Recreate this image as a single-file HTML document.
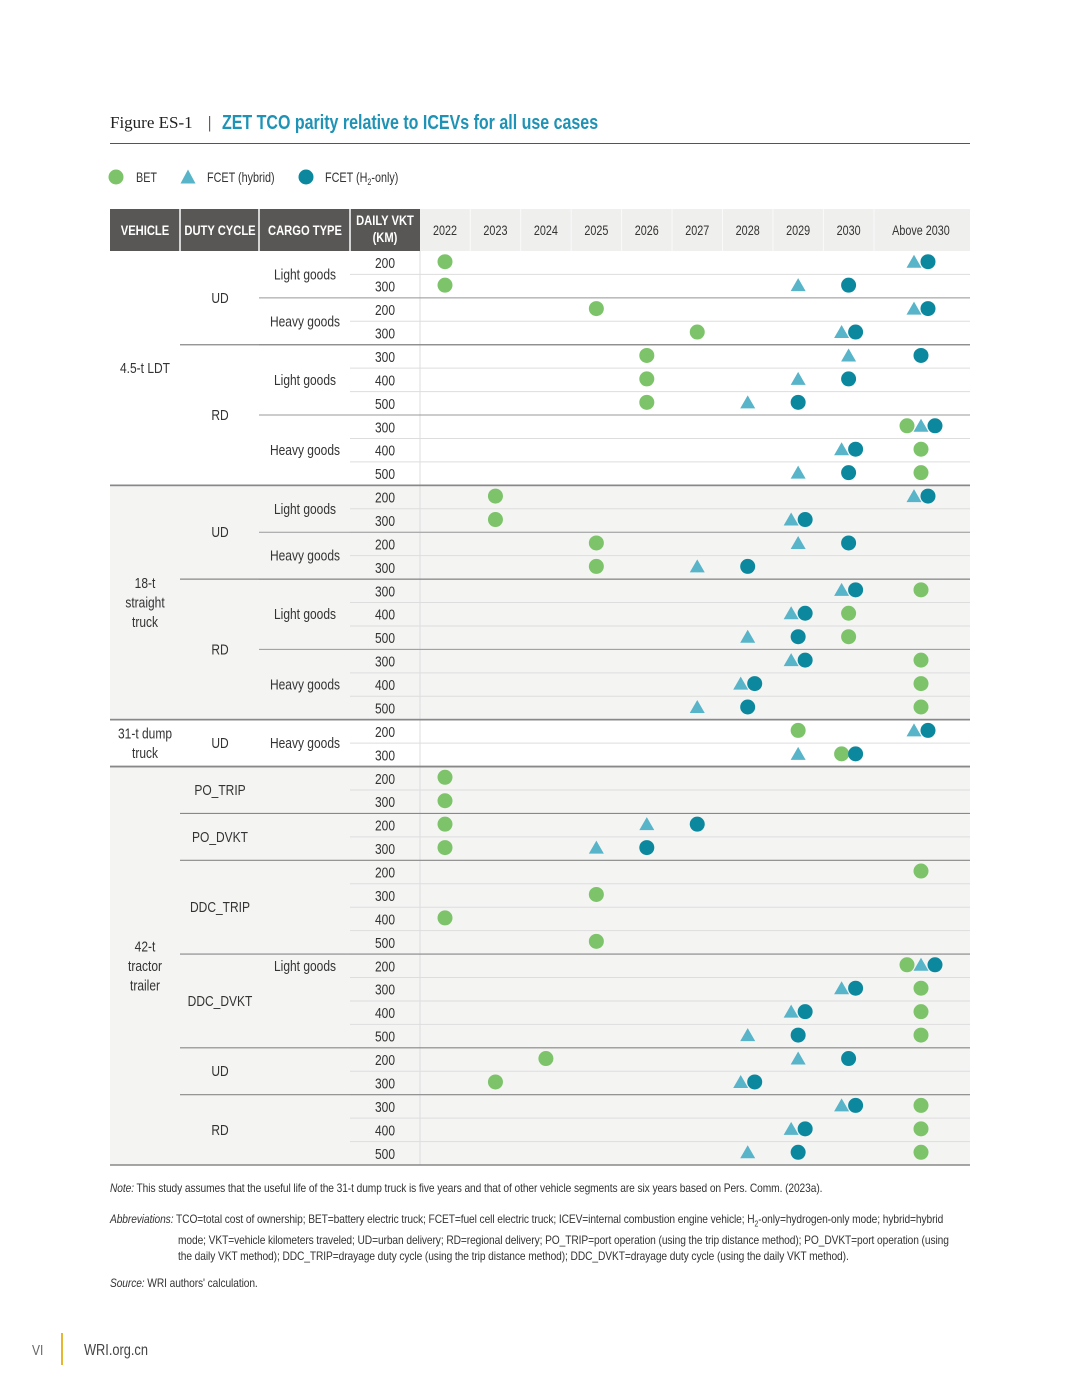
<!DOCTYPE html>
<html><head><meta charset="utf-8">
<style>
body{margin:0;background:#fff;}
#wrap{position:relative;width:1080px;height:1397px;overflow:hidden;font-family:"Liberation Sans Narrow","Liberation Sans",sans-serif;}
.note{position:absolute;left:110px;width:1012px;font-size:12px;color:#333;line-height:16px;letter-spacing:-0.1px;transform:scaleX(0.85);transform-origin:0 0;}
.note i{font-style:italic;}
</style></head>
<body>
<div id="wrap">
<svg id="chart" width="1080" height="1397" style="position:absolute;left:0;top:0"></svg>
<div class="note" style="top:1180px"><i>Note:</i> This study assumes that the useful life of the 31-t dump truck is five years and that of other vehicle segments are six years based on Pers. Comm. (2023a).</div>
<div class="note" style="top:1211px;padding-left:80px;text-indent:-80px;width:920px"><i>Abbreviations:</i> TCO=total cost of ownership; BET=battery electric truck; FCET=fuel cell electric truck; ICEV=internal combustion engine vehicle; H<sub style="font-size:8px">2</sub>-only=hydrogen-only mode; hybrid=hybrid mode; VKT=vehicle kilometers traveled; UD=urban delivery; RD=regional delivery; PO_TRIP=port operation (using the trip distance method); PO_DVKT=port operation (using the daily VKT method); DDC_TRIP=drayage duty cycle (using the trip distance method); DDC_DVKT=drayage duty cycle (using the daily VKT method).</div>
<div class="note" style="top:1275px"><i>Source:</i> WRI authors' calculation.</div>
</div>
<script>
// data: year index 0..8 = 2022..2030, 9 = Above 2030, null = none
const years = ["2022","2023","2024","2025","2026","2027","2028","2029","2030","Above 2030"];
const vkt = [200,300,200,300,300,400,500,300,400,500, 200,300,200,300,300,400,500,300,400,500, 200,300, 200,300,200,300,200,300,400,500,200,300,400,500,200,300,300,400,500];
const bet = [0,0,3,5,4,4,4,9,9,9, 1,1,3,3,9,8,8,9,9,9, 7,8, 0,0,0,0,9,3,0,3,9,9,9,9,2,1,9,9,9];
const fcetHybrid = [9,7,9,8,8,7,6,9,8,7, 9,7,7,5,8,7,6,7,6,5, 9,7, null,null,4,3,null,null,null,null,9,8,7,6,7,6,8,7,6];
const fcetH2 = [9,8,9,8,9,8,7,9,8,8, 9,7,8,6,8,7,7,7,6,6, 9,8, null,null,5,4,null,null,null,null,9,8,7,7,8,6,8,7,7];
const vehicles = [["4.5-t LDT",0,10,false],["18-t|straight|truck",10,20,true],["31-t dump|truck",20,22,false],["42-t|tractor|trailer",22,39,true]];
const duties = [["UD",0,4],["RD",4,10],["UD",10,14],["RD",14,20],["UD",20,22],["PO_TRIP",22,24],["PO_DVKT",24,26],["DDC_TRIP",26,30],["DDC_DVKT",30,34],["UD",34,36],["RD",36,39]];
const cargos = [["Light goods",0,2],["Heavy goods",2,4],["Light goods",4,7],["Heavy goods",7,10],["Light goods",10,12],["Heavy goods",12,14],["Light goods",14,17],["Heavy goods",17,20],["Heavy goods",20,22],["Light goods",22,39]];

const svg=document.getElementById('chart');
const NS='http://www.w3.org/2000/svg';
const SX=0.8;
function mk(tag,attrs,name,text,sx){const e=document.createElementNS(NS,tag);for(const k in attrs)e.setAttribute(k,attrs[k]);


if(text!==undefined){e.textContent=text;const x=+attrs.x;const s=sx||SX;e.setAttribute('transform',`translate(${x},0) scale(${s},1) translate(${-x},0)`);}
svg.appendChild(e);return e;}
const F='"Liberation Sans Narrow","Liberation Sans",sans-serif';
const TOP=251, RH=(1165-251)/39;
const rowY=r=>TOP+r*RH;
const colX=i=>i<9?445+i*50.45:921;
const GREEN='#7cc36a',TRI='#58b4c8',CIRC='#0b889e';

// title
mk('text',{x:110,y:128,'font-family':'"Liberation Serif",serif','font-size':17,fill:'#222'},'figure-label','Figure ES-1',1);
mk('text',{x:208,y:128,'font-family':'"Liberation Serif",serif','font-size':17,fill:'#222'},'title-separator','|',1);
mk('text',{x:222,y:129,'font-family':F,'font-size':20,'font-weight':'bold',fill:'#1e93b5'},'chart-title','ZET TCO parity relative to ICEVs for all use cases');
mk('line',{x1:110,y1:143.5,x2:970,y2:143.5,stroke:'#555','stroke-width':1},'title-rule');
// legend
mk('circle',{cx:116,cy:177,r:7.5,fill:GREEN},'legend-bet-marker');
mk('text',{x:136,y:182,'font-family':F,'font-size':13.5,fill:'#333'},'legend-bet','BET');
mk('polygon',{points:'188,169.5 195.5,183.5 180.5,183.5',fill:TRI},'legend-fcet-hybrid-marker');
mk('text',{x:207,y:182,'font-family':F,'font-size':13.5,fill:'#333'},'legend-fcet-hybrid','FCET (hybrid)');
mk('circle',{cx:306,cy:177,r:7.5,fill:CIRC},'legend-fcet-h2-marker');
const lt=mk('text',{x:325,y:182,'font-family':F,'font-size':13.5,fill:'#333'},'legend-fcet-h2','FCET (H');
const ts=document.createElementNS(NS,'tspan');ts.setAttribute('font-size',9);ts.setAttribute('dy',3);ts.textContent='2';lt.appendChild(ts);
const ts2=document.createElementNS(NS,'tspan');ts2.setAttribute('dy',-3);ts2.textContent='-only)';lt.appendChild(ts2);

vehicles.forEach(v=>{if(v[3])mk('rect',{x:110,y:rowY(v[1]),width:860,height:rowY(v[2])-rowY(v[1]),fill:'#f4f4f3'},'group-background');});
mk('rect',{x:110,y:209,width:310,height:42,fill:'#595755'},'header-left');
mk('rect',{x:420,y:209,width:550,height:42,fill:'#efefed'},'header-years');
const hdr=[["VEHICLE",145],["DUTY CYCLE",220],["CARGO TYPE",305],["DAILY VKT|(KM)",385]];
hdr.forEach(h=>{const ls=h[0].split('|');ls.forEach((l,i)=>mk('text',{x:h[1],y:(ls.length>1?225+i*17:235),'text-anchor':'middle','font-family':F,'font-size':14,'font-weight':'bold',fill:'#fff'},'header-cell',l));});
[180,259,350].forEach(x=>mk('line',{x1:x,y1:209,x2:x,y2:251,stroke:'#fff','stroke-width':1.5},'header-divider'));
years.forEach((y,i)=>{mk('text',{x:colX(i),y:235,'text-anchor':'middle','font-family':F,'font-size':13.5,fill:'#333'},'year-label',y);
 if(i>0)mk('line',{x1:colX(i)-(i<9?25.2:47),y1:209,x2:colX(i)-(i<9?25.2:47),y2:251,stroke:'#fafafa','stroke-width':1},'year-divider');});
mk('line',{x1:420,y1:251,x2:420,y2:1165,stroke:'#ddd','stroke-width':1},'vkt-year-divider');
for(let r=1;r<39;r++){mk('line',{x1:350,y1:rowY(r),x2:970,y2:rowY(r),stroke:'#ddd','stroke-width':1},'row-line');}
cargos.forEach(c=>{if(c[1]>0)mk('line',{x1:259,y1:rowY(c[1]),x2:970,y2:rowY(c[1]),stroke:'#999','stroke-width':1},'cargo-line');});
duties.forEach(d=>{if(d[1]>0)mk('line',{x1:180,y1:rowY(d[1]),x2:970,y2:rowY(d[1]),stroke:'#888','stroke-width':1.2},'duty-line');});
vehicles.forEach(v=>{mk('line',{x1:110,y1:rowY(v[2]),x2:970,y2:rowY(v[2]),stroke:'#888','stroke-width':1.6},'vehicle-line');if(v[1]>0)mk('line',{x1:110,y1:rowY(v[1]),x2:970,y2:rowY(v[1]),stroke:'#888','stroke-width':1.6},'vehicle-line');});
function mtext(str,x,cy,name){const ls=str.split('|');const lh=19.5;ls.forEach((l,i)=>mk('text',{x:x,y:cy+5+(i-(ls.length-1)/2)*lh,'text-anchor':'middle','font-family':F,'font-size':15,fill:'#333'},name,l));}
vehicles.forEach(v=>mtext(v[0],145,(rowY(v[1])+rowY(v[2]))/2,'vehicle-label'));
duties.forEach(d=>mtext(d[0],220,(rowY(d[1])+rowY(d[2]))/2,'duty-cycle-label'));
cargos.forEach(c=>mtext(c[0],305,(rowY(c[1])+rowY(c[2]))/2,'cargo-type-label'));
vkt.forEach((v,r)=>mk('text',{x:385,y:rowY(r)+RH/2+5.5,'text-anchor':'middle','font-family':F,'font-size':15,fill:'#333'},'vkt-label',v));
for(let r=0;r<39;r++){
 const cy=rowY(r)+RH/2-1;
 for(let c=0;c<10;c++){
  const items=[];
  if(bet[r]===c)items.push('b');
  if(fcetHybrid[r]===c)items.push('t');
  if(fcetH2[r]===c)items.push('c');
  items.forEach((it,k)=>{const x=colX(c)+(k-(items.length-1)/2)*14;
   if(it==='b')mk('circle',{cx:x,cy:cy,r:7.5,fill:GREEN},'bet-marker');
   else if(it==='c')mk('circle',{cx:x,cy:cy,r:7.5,fill:CIRC},'fcet-h2-marker');
   else mk('polygon',{points:`${x},${cy-7} ${x+7.5},${cy+6} ${x-7.5},${cy+6}`,fill:TRI},'fcet-hybrid-marker');});
 }
}
mk('text',{x:32,y:1355,'font-family':F,'font-size':15,fill:'#666'},'page-number','VI');
mk('line',{x1:62,y1:1333,x2:62,y2:1365,stroke:'#e8b531','stroke-width':2},'footer-divider');
mk('text',{x:84,y:1355,'font-family':F,'font-size':16,fill:'#444'},'footer-site','WRI.org.cn');
</script>
</body></html>
